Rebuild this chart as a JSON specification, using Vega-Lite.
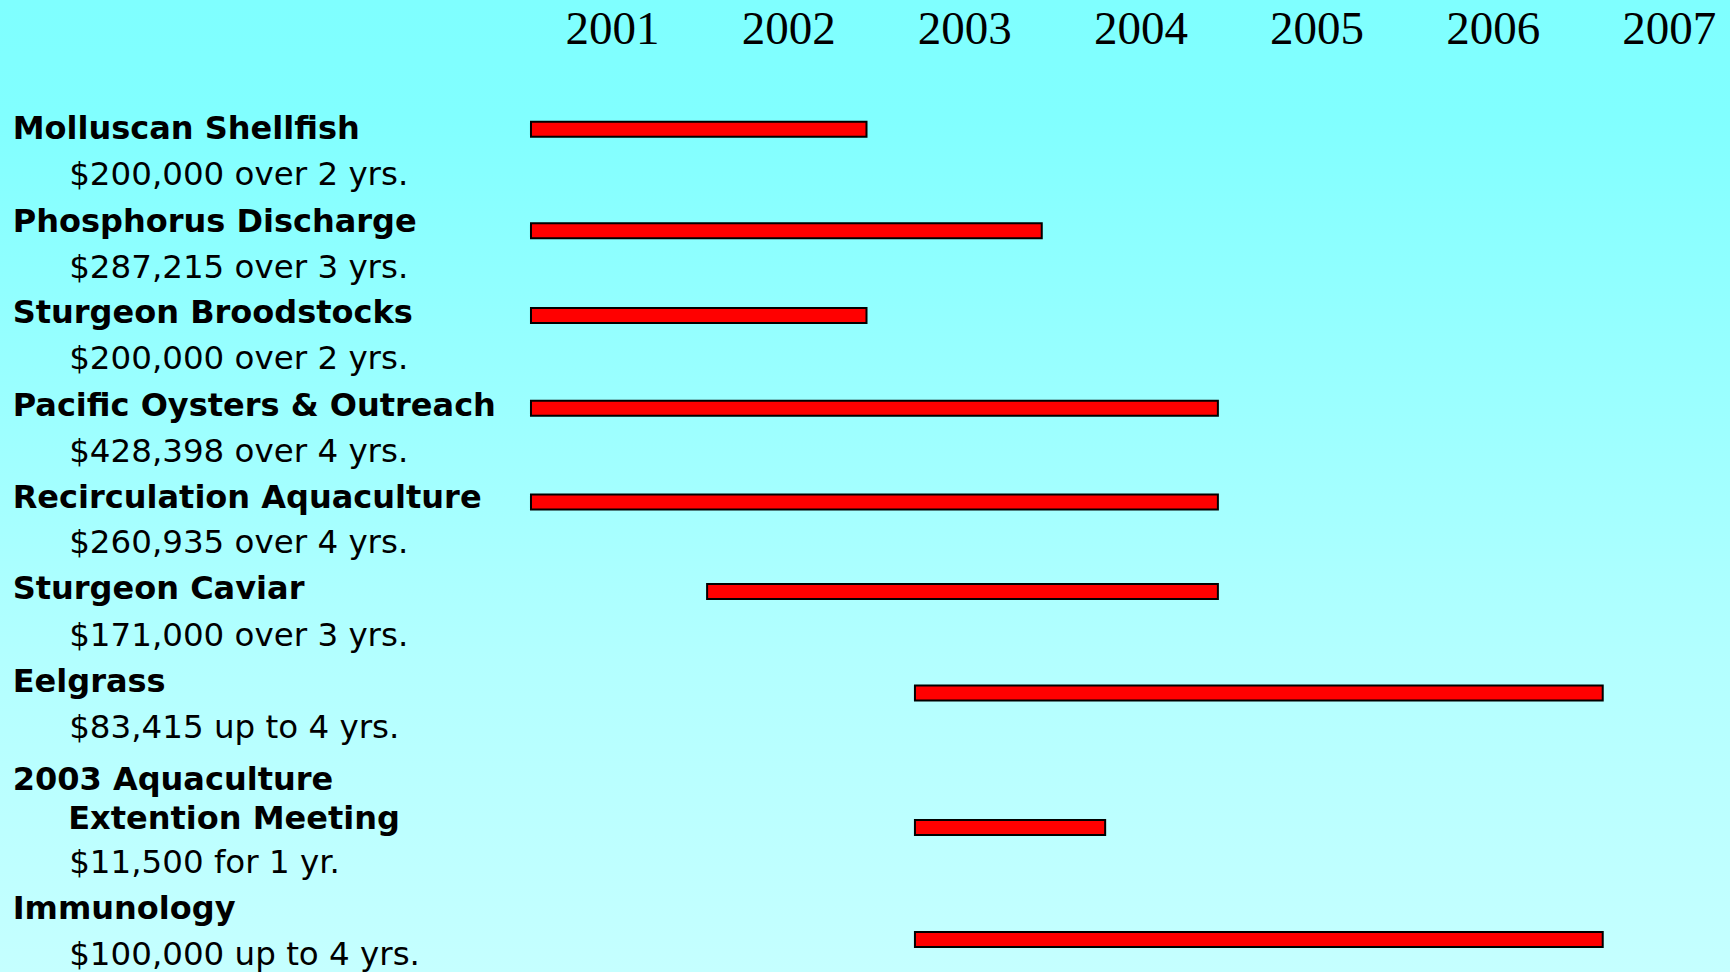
{
  "$schema": "https://vega.github.io/schema/vega-lite/v6.json",
  "width": 1730,
  "height": 972,
  "autosize": "none",
  "padding": 0,
  "background": "#9fffff",
  "config": {
    "view": {
      "stroke": null,
      "fill": {
        "gradient": "linear",
        "x1": 0, "y1": 0, "x2": 0, "y2": 1,
        "stops": [
          {"offset": 0, "color": "#7fffff"},
          {"offset": 0.12, "color": "#81ffff"},
          {"offset": 0.68, "color": "#b3ffff"},
          {"offset": 1, "color": "#c5ffff"}
        ]
      }
    }
  },
  "datasets": {
    "bars": [
      {"project": "Molluscan Shellfish", "start": 2000.54, "end": 2002.445, "pos": 0.026},
      {"project": "Phosphorus Discharge", "start": 2000.54, "end": 2003.44, "pos": 2.225},
      {"project": "Sturgeon Broodstocks", "start": 2000.54, "end": 2002.445, "pos": 4.058},
      {"project": "Pacific Oysters & Outreach", "start": 2000.54, "end": 2004.44, "pos": 6.065},
      {"project": "Recirculation Aquaculture", "start": 2000.54, "end": 2004.44, "pos": 8.095},
      {"project": "Sturgeon Caviar", "start": 2001.54, "end": 2004.44, "pos": 10.03},
      {"project": "Eelgrass", "start": 2002.72, "end": 2006.625, "pos": 12.229},
      {"project": "2003 Aquaculture Extention Meeting", "start": 2002.72, "end": 2003.8, "pos": 15.141},
      {"project": "Immunology", "start": 2002.72, "end": 2006.625, "pos": 17.565}
    ],
    "labels": [
      {"text": "Molluscan Shellfish", "kind": "title", "pos": 0.248},
      {"text": "$200,000 over 2 yrs.", "kind": "sub", "pos": 1.23},
      {"text": "Phosphorus Discharge", "kind": "title", "pos": 2.249},
      {"text": "$287,215 over 3 yrs.", "kind": "sub", "pos": 3.236},
      {"text": "Sturgeon Broodstocks", "kind": "title", "pos": 4.23},
      {"text": "$200,000 over 2 yrs.", "kind": "sub", "pos": 5.219},
      {"text": "Pacific Oysters & Outreach", "kind": "title", "pos": 6.236},
      {"text": "$428,398 over 4 yrs.", "kind": "sub", "pos": 7.225},
      {"text": "Recirculation Aquaculture", "kind": "title", "pos": 8.219},
      {"text": "$260,935 over 4 yrs.", "kind": "sub", "pos": 9.206},
      {"text": "Sturgeon Caviar", "kind": "title", "pos": 10.2},
      {"text": "$171,000 over 3 yrs.", "kind": "sub", "pos": 11.212},
      {"text": "Eelgrass", "kind": "title", "pos": 12.206},
      {"text": "$83,415 up to 4 yrs.", "kind": "sub", "pos": 13.195},
      {"text": "2003 Aquaculture", "kind": "title", "pos": 14.334},
      {"text": "Extention Meeting", "kind": "title2", "pos": 15.169},
      {"text": "$11,500 for 1 yr.", "kind": "sub", "pos": 16.132},
      {"text": "Immunology", "kind": "title", "pos": 17.126},
      {"text": "$100,000 up to 4 yrs.", "kind": "sub", "pos": 18.115}
    ]
  },
  "layer": [
    {
      "data": {"name": "bars"},
      "mark": {"type": "bar", "orient": "horizontal", "size": 15, "fill": "#ff0000", "stroke": "#000000", "strokeWidth": 2},
      "encoding": {
        "x": {
          "field": "start", "type": "quantitative",
          "scale": {"domain": [1997.5253, 2007.3476], "nice": false, "zero": false, "padding": 0},
          "axis": {
            "orient": "top", "values": [2001, 2002, 2003, 2004, 2005, 2006, 2007], "format": "d",
            "title": null, "grid": false, "domain": false, "ticks": false, "tickSize": 0,
            "offset": -43.3, "labelPadding": 0, "labelBaseline": "alphabetic",
            "labelFont": "Liberation Serif", "labelFontSize": 47, "labelColor": "#000000",
            "labelFlush": false, "labelOverlap": false, "labelBound": false
          }
        },
        "x2": {"field": "end"},
        "y": {
          "field": "pos", "type": "quantitative",
          "scale": {"domain": [-2.7706, 18.268], "reverse": true, "nice": false, "zero": false, "padding": 0},
          "axis": null
        }
      }
    },
    {
      "data": {"name": "labels"},
      "transform": [{"filter": "datum.kind === 'title'"}],
      "mark": {"type": "text", "align": "left", "baseline": "alphabetic", "font": "DejaVu Sans", "fontWeight": "bold", "fontSize": 32, "color": "#000000"},
      "encoding": {
        "x": {"datum": 1997.5975, "type": "quantitative"},
        "y": {"field": "pos", "type": "quantitative"},
        "text": {"field": "text"}
      }
    },
    {
      "data": {"name": "labels"},
      "transform": [{"filter": "datum.kind === 'title2'"}],
      "mark": {"type": "text", "align": "left", "baseline": "alphabetic", "font": "DejaVu Sans", "fontWeight": "bold", "fontSize": 32, "color": "#000000"},
      "encoding": {
        "x": {"datum": 1997.9125, "type": "quantitative"},
        "y": {"field": "pos", "type": "quantitative"},
        "text": {"field": "text"}
      }
    },
    {
      "data": {"name": "labels"},
      "transform": [{"filter": "datum.kind === 'sub'"}],
      "mark": {"type": "text", "align": "left", "baseline": "alphabetic", "font": "DejaVu Sans", "fontSize": 32.5, "color": "#000000"},
      "encoding": {
        "x": {"datum": 1997.918, "type": "quantitative"},
        "y": {"field": "pos", "type": "quantitative"},
        "text": {"field": "text"}
      }
    }
  ]
}
